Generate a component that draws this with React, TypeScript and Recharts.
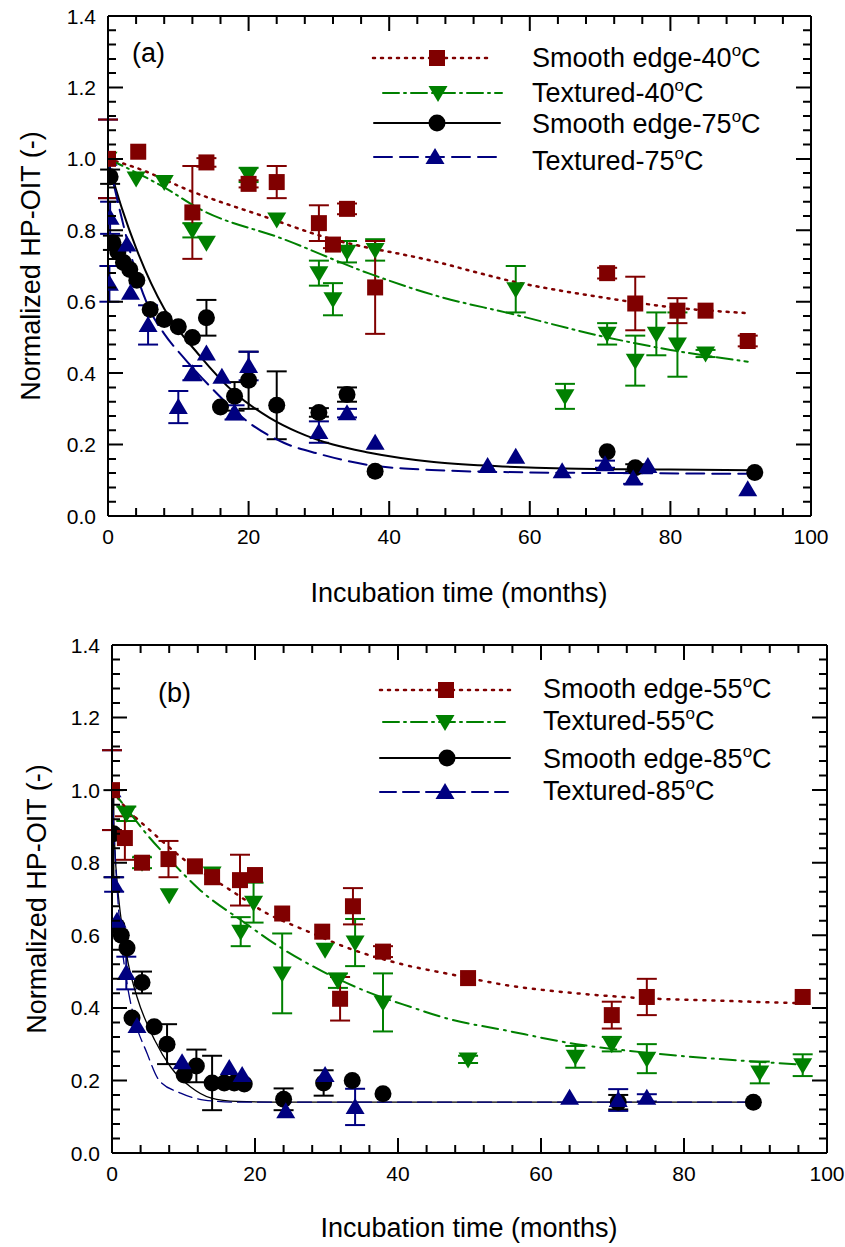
import React from 'react';
import { ComposedChart, Scatter, Line, XAxis, YAxis, ErrorBar } from 'recharts';

const FONT = '"Liberation Sans", Arial, Helvetica, sans-serif';
const RED = '#800000';
const GREEN = '#008000';
const BLACK = '#000000';
const BLUE = '#000080';

// ---------- tick labels ----------
const majorX = [0, 20, 40, 60, 80, 100];
const minorX = [0, 4, 8, 12, 16, 20, 24, 28, 32, 36, 40, 44, 48, 52, 56, 60, 64, 68, 72, 76, 80, 84, 88, 92, 96, 100];
const majorY = [0, 0.2, 0.4, 0.6, 0.8, 1.0, 1.2, 1.4];
const minorY = [0, 0.04, 0.08, 0.12, 0.16, 0.2, 0.24, 0.28, 0.32, 0.36, 0.4, 0.44, 0.48, 0.52, 0.56, 0.6, 0.64, 0.68, 0.72, 0.76, 0.8, 0.84, 0.88, 0.92, 0.96, 1.0, 1.04, 1.08, 1.12, 1.16, 1.2, 1.24, 1.28, 1.32, 1.36, 1.4];
const X_DOMAIN = [0, 100];
const Y_DOMAIN = [0, 1.4];

// ---------- panel (a) measurements ----------
const smooth40A = [
  { x: 0, y: 1.0, err: 0.11 }, { x: 4.3, y: 1.02 }, { x: 12, y: 0.85, err: 0.13 }, { x: 14, y: 0.99, err: 0.012 },
  { x: 20, y: 0.93, err: 0.01 }, { x: 24, y: 0.935, err: 0.045 }, { x: 30, y: 0.82, err: 0.05 }, { x: 32, y: 0.76, err: 0.01 },
  { x: 34, y: 0.86, err: 0.015 }, { x: 38, y: 0.64, err: 0.13 }, { x: 71, y: 0.68, err: 0.015 }, { x: 75, y: 0.595, err: 0.075 },
  { x: 81, y: 0.575, err: 0.035 }, { x: 85, y: 0.575 }, { x: 91, y: 0.49, err: 0.015 },
];
const textured40A = [
  { x: 0, y: 1.0 }, { x: 4, y: 0.945 }, { x: 8, y: 0.935 }, { x: 12, y: 0.8, err: 0.02 }, { x: 14, y: 0.765 },
  { x: 20, y: 0.955, err: 0.02 }, { x: 24, y: 0.83 }, { x: 30, y: 0.68, err: 0.035 }, { x: 32, y: 0.607, err: 0.045 },
  { x: 34, y: 0.74, err: 0.03 }, { x: 38, y: 0.745, err: 0.03 }, { x: 58, y: 0.635, err: 0.065 }, { x: 65, y: 0.335, err: 0.035 },
  { x: 71, y: 0.51, err: 0.03 }, { x: 75, y: 0.435, err: 0.07 }, { x: 78, y: 0.51, err: 0.06 }, { x: 81, y: 0.48, err: 0.09 },
  { x: 85, y: 0.455, err: 0.01 },
];
const smooth75A = [
  { x: 0.3, y: 0.95, err: 0.02 }, { x: 0.7, y: 0.765, err: 0.02 }, { x: 1.4, y: 0.74 }, { x: 2.2, y: 0.71 }, { x: 3.1, y: 0.69 },
  { x: 4.1, y: 0.66 }, { x: 6, y: 0.578 }, { x: 8, y: 0.55 }, { x: 10, y: 0.53 }, { x: 12, y: 0.5 }, { x: 14, y: 0.555, err: 0.05 },
  { x: 16, y: 0.305 }, { x: 18, y: 0.335, err: 0.04 }, { x: 20, y: 0.38, err: 0.08 }, { x: 24, y: 0.31, err: 0.095 },
  { x: 30, y: 0.29, err: 0.012 }, { x: 34, y: 0.34, err: 0.02 }, { x: 38, y: 0.125 }, { x: 71, y: 0.18 },
  { x: 75, y: 0.135, err: 0.01 }, { x: 92, y: 0.122 },
];
const textured75A = [
  { x: 0, y: 1.0, err: 0.11 }, { x: 0.3, y: 0.835, err: 0.045 }, { x: 0.2, y: 0.65, err: 0.05 }, { x: 2.7, y: 0.76 },
  { x: 3.2, y: 0.625 }, { x: 5.7, y: 0.535, err: 0.055 }, { x: 10, y: 0.305, err: 0.045 }, { x: 12, y: 0.4, err: 0.02 },
  { x: 14, y: 0.455 }, { x: 16.2, y: 0.39 }, { x: 18, y: 0.29, err: 0.02 }, { x: 20, y: 0.42, err: 0.04 },
  { x: 30, y: 0.235, err: 0.03 }, { x: 34, y: 0.288, err: 0.012 }, { x: 38, y: 0.205 }, { x: 54, y: 0.14 },
  { x: 58, y: 0.166 }, { x: 64.6, y: 0.125 }, { x: 70.7, y: 0.145, err: 0.01 }, { x: 74.7, y: 0.105, err: 0.015 },
  { x: 76.8, y: 0.14 }, { x: 91, y: 0.075 },
];
// fitted curves (a)
const fitSmooth40A = [
  { x: 0, y: 1.0 }, { x: 4, y: 0.975 }, { x: 12, y: 0.908 }, { x: 22, y: 0.84 }, { x: 31, y: 0.78 }, { x: 46, y: 0.715 },
  { x: 58, y: 0.655 }, { x: 71, y: 0.61 }, { x: 80, y: 0.585 }, { x: 91, y: 0.568 },
];
const fitTextured40A = [
  { x: 0, y: 1.0 }, { x: 8, y: 0.92 }, { x: 13, y: 0.86 }, { x: 25, y: 0.775 }, { x: 37, y: 0.68 }, { x: 47, y: 0.615 },
  { x: 57, y: 0.568 }, { x: 71, y: 0.5 }, { x: 80, y: 0.465 }, { x: 91, y: 0.432 },
];
const fitSmooth75A = [
  { x: 0, y: 0.99 }, { x: 2, y: 0.86 }, { x: 4, y: 0.75 }, { x: 8, y: 0.58 }, { x: 13, y: 0.45 }, { x: 18, y: 0.345 },
  { x: 23, y: 0.275 }, { x: 27, y: 0.235 }, { x: 32, y: 0.2 }, { x: 37, y: 0.178 }, { x: 46, y: 0.152 }, { x: 55, y: 0.14 },
  { x: 65, y: 0.133 }, { x: 80, y: 0.13 }, { x: 92, y: 0.128 },
];
const fitTextured75A = [
  { x: 0, y: 1.0 }, { x: 2, y: 0.83 }, { x: 4, y: 0.68 }, { x: 6, y: 0.575 }, { x: 8, y: 0.51 }, { x: 10.7, y: 0.445 },
  { x: 15, y: 0.353 }, { x: 19.8, y: 0.265 }, { x: 25, y: 0.205 }, { x: 30, y: 0.174 }, { x: 37, y: 0.143 }, { x: 46, y: 0.129 },
  { x: 60, y: 0.122 }, { x: 75, y: 0.12 }, { x: 91, y: 0.118 },
];

// ---------- panel (b) measurements ----------
const smooth55B = [
  { x: 0, y: 1.0, err: 0.11 }, { x: 1.8, y: 0.868, err: 0.06 }, { x: 4.2, y: 0.8 }, { x: 7.9, y: 0.81, err: 0.05 },
  { x: 11.6, y: 0.79 }, { x: 14, y: 0.76 }, { x: 17.9, y: 0.752, err: 0.07 }, { x: 20, y: 0.766 }, { x: 23.8, y: 0.66 },
  { x: 29.4, y: 0.61 }, { x: 31.9, y: 0.425, err: 0.06 }, { x: 33.7, y: 0.68, err: 0.05 }, { x: 37.9, y: 0.555, err: 0.015 },
  { x: 49.8, y: 0.482 }, { x: 69.9, y: 0.38, err: 0.037 }, { x: 74.8, y: 0.43, err: 0.05 }, { x: 96.6, y: 0.43 },
];
const textured55B = [
  { x: 2, y: 0.935, err: 0.02 }, { x: 4.2, y: 0.8, err: 0.015 }, { x: 8, y: 0.71 }, { x: 14, y: 0.77 },
  { x: 18, y: 0.61, err: 0.04 }, { x: 19.8, y: 0.69, err: 0.055 }, { x: 23.8, y: 0.495, err: 0.11 }, { x: 29.8, y: 0.56 },
  { x: 31.6, y: 0.475, err: 0.02 }, { x: 34, y: 0.58, err: 0.065 }, { x: 37.9, y: 0.415, err: 0.08 },
  { x: 49.8, y: 0.258, err: 0.01 }, { x: 64.8, y: 0.265, err: 0.03 }, { x: 69.9, y: 0.3, err: 0.02 },
  { x: 74.8, y: 0.26, err: 0.04 }, { x: 90.6, y: 0.222, err: 0.03 }, { x: 96.6, y: 0.242, err: 0.03 },
];
const smooth85B = [
  { x: 0.2, y: 0.88, err: 0.12 }, { x: 0.7, y: 0.625 }, { x: 1.3, y: 0.6 }, { x: 2.1, y: 0.565 }, { x: 2.8, y: 0.372 },
  { x: 4.2, y: 0.47, err: 0.03 }, { x: 5.9, y: 0.348 }, { x: 7.7, y: 0.3, err: 0.055 }, { x: 10.1, y: 0.215 },
  { x: 11.8, y: 0.24, err: 0.045 }, { x: 14, y: 0.193, err: 0.075 }, { x: 15.7, y: 0.193 }, { x: 17.1, y: 0.193 },
  { x: 18.5, y: 0.19 }, { x: 24, y: 0.148, err: 0.03 }, { x: 29.6, y: 0.193, err: 0.035 }, { x: 33.6, y: 0.2 },
  { x: 37.9, y: 0.163 }, { x: 70.8, y: 0.14, err: 0.02 }, { x: 89.7, y: 0.14 },
];
const textured85B = [
  { x: 0, y: 1.0, err: 0.11 }, { x: 0.3, y: 0.74, err: 0.02 }, { x: 0.7, y: 0.64 }, { x: 2, y: 0.496, err: 0.045 },
  { x: 3.5, y: 0.35 }, { x: 9.8, y: 0.25 }, { x: 16.4, y: 0.234 }, { x: 18.2, y: 0.215 }, { x: 24.3, y: 0.115 },
  { x: 29.8, y: 0.215 }, { x: 34, y: 0.127, err: 0.05 }, { x: 64, y: 0.152 }, { x: 70.8, y: 0.146, err: 0.03 },
  { x: 74.8, y: 0.152, err: 0.01 },
];
const fitSmooth55B = [
  { x: 0, y: 1.0 }, { x: 2, y: 0.95 }, { x: 5, y: 0.895 }, { x: 10, y: 0.81 }, { x: 16.6, y: 0.724 }, { x: 21.7, y: 0.66 },
  { x: 27, y: 0.614 }, { x: 33, y: 0.565 }, { x: 40, y: 0.523 }, { x: 48, y: 0.49 }, { x: 55, y: 0.463 }, { x: 65, y: 0.44 },
  { x: 74, y: 0.427 }, { x: 83, y: 0.421 }, { x: 96, y: 0.413 },
];
const fitTextured55B = [
  { x: 0, y: 1.0 }, { x: 2, y: 0.95 }, { x: 5, y: 0.875 }, { x: 8, y: 0.81 }, { x: 12.3, y: 0.725 }, { x: 18.6, y: 0.634 },
  { x: 23.5, y: 0.567 }, { x: 29.5, y: 0.5 }, { x: 35.6, y: 0.445 }, { x: 41.7, y: 0.403 }, { x: 47, y: 0.37 },
  { x: 55, y: 0.338 }, { x: 65, y: 0.3 }, { x: 74, y: 0.278 }, { x: 83, y: 0.262 }, { x: 93, y: 0.248 }, { x: 97, y: 0.243 },
];
const fitSmooth85B = [
  { x: 0, y: 1.0 }, { x: 0.5, y: 0.8 }, { x: 1.3, y: 0.64 }, { x: 2.3, y: 0.52 }, { x: 3.5, y: 0.43 }, { x: 6, y: 0.31 },
  { x: 8.2, y: 0.237 }, { x: 11, y: 0.182 }, { x: 13.8, y: 0.152 }, { x: 17.5, y: 0.142 }, { x: 25, y: 0.14 }, { x: 90, y: 0.14 },
];
const fitTextured85B = [
  { x: 0, y: 1.0 }, { x: 0.5, y: 0.8 }, { x: 1, y: 0.65 }, { x: 2, y: 0.48 }, { x: 3, y: 0.38 }, { x: 4.9, y: 0.275 },
  { x: 6.6, y: 0.2 }, { x: 9.6, y: 0.165 }, { x: 12.9, y: 0.146 }, { x: 18, y: 0.14 }, { x: 90, y: 0.14 },
];

// ---------- legend labels ----------
const legendA = [
  { name: 'Smooth edge-40', color: RED, marker: 'square', dash: '2 6', width: 2.5 },
  { name: 'Textured-40', color: GREEN, marker: 'down', dash: '16 5 2 5', width: 2 },
  { name: 'Smooth edge-75', color: BLACK, marker: 'circle', dash: undefined, width: 2 },
  { name: 'Textured-75', color: BLUE, marker: 'up', dash: '18 8', width: 2 },
];
const legendB = [
  { name: 'Smooth edge-55', color: RED, marker: 'square', dash: '2 6', width: 2.5 },
  { name: 'Textured-55', color: GREEN, marker: 'down', dash: '16 5 2 5', width: 2 },
  { name: 'Smooth edge-85', color: BLACK, marker: 'circle', dash: undefined, width: 2 },
  { name: 'Textured-85', color: BLUE, marker: 'up', dash: '16 7', width: 2 },
];

// ---------- layout of the two plot frames (page pixels) ----------
const frameA = { chartTop: 0, chartH: 620, left: 108, top: 16, right: 811, bottom: 516 };
const frameB = { chartTop: 620, chartH: 627, left: 112, top: 645, right: 827, bottom: 1153 };

// ---------- markers ----------
function markerEl(kind: string, cx: number, cy: number, color: string) {
  if (kind === 'square') return <rect x={cx - 8} y={cy - 8} width={16} height={16} fill={color} />;
  if (kind === 'circle') return <circle cx={cx} cy={cy} r={8.5} fill={color} />;
  if (kind === 'down') return <polygon points={`${cx - 9.5},${cy - 7} ${cx + 9.5},${cy - 7} ${cx},${cy + 9}`} fill={color} />;
  return <polygon points={`${cx - 9.5},${cy + 7} ${cx + 9.5},${cy + 7} ${cx},${cy - 9}`} fill={color} />;
}
const shapeOf = (kind: string, color: string) => (p: any) => {
  if (p == null || p.cx == null || p.cy == null) return <g />;
  return markerEl(kind, p.cx, p.cy, color);
};

// tick labels (drawn by the axes)
const LABEL_M = 20;
const labelBottom = (p: any) => (
  <text x={p.x} y={p.y - LABEL_M + 28} textAnchor="middle" fontSize={21} fontFamily={FONT} fill="#000">
    {String(p.payload.value)}
  </text>
);
const labelLeft = (p: any) => (
  <text x={p.x + LABEL_M - 12} y={p.y + 7.5} textAnchor="end" fontSize={21} fontFamily={FONT} fill="#000">
    {Number(p.payload.value).toFixed(1)}
  </text>
);

// inward tick marks on all four sides of a frame, placed from the tick lists and the axis domains
const MAJOR = 15;
const MINOR = 8;
function FrameTicks(props: { f: any }) {
  const f = props.f;
  const sx = (v: number) => f.left + ((v - X_DOMAIN[0]) / (X_DOMAIN[1] - X_DOMAIN[0])) * (f.right - f.left);
  const sy = (v: number) => f.bottom - ((v - Y_DOMAIN[0]) / (Y_DOMAIN[1] - Y_DOMAIN[0])) * (f.bottom - f.top);
  let d = '';
  const addX = (vals: number[], len: number) => vals.forEach((v) => {
    const x = sx(v).toFixed(1);
    d += `M${x},${f.bottom}V${f.bottom - len}M${x},${f.top}V${f.top + len}`;
  });
  const addY = (vals: number[], len: number) => vals.forEach((v) => {
    const y = sy(v).toFixed(1);
    d += `M${f.left},${y}H${f.left + len}M${f.right},${y}H${f.right - len}`;
  });
  addX(minorX, MINOR); addX(majorX, MAJOR); addY(minorY, MINOR); addY(majorY, MAJOR);
  return <path d={d} stroke="#000" strokeWidth={2} fill="none" />;
}

type ScatterDef = { data: any[]; color: string; kind: string };
type FitDef = { data: any[]; color: string; dash?: string; width: number };

const axisStroke = { stroke: '#000', strokeWidth: 2 };

function Panel(props: { f: any; scatters: ScatterDef[]; fits: FitDef[] }) {
  const { f, scatters, fits } = props;
  // each axis is 1px thick, so subtract 1px from each margin
  const m = {
    top: f.top - f.chartTop - 1,
    bottom: f.chartTop + f.chartH - f.bottom - 1,
    left: f.left - 1,
    right: 845 - f.right - 1,
  };
  const common = { type: 'number' as const, allowDataOverflow: true, interval: 0 as const, tickSize: 0, tickLine: false };
  return (
    <ComposedChart width={845} height={f.chartH} margin={m}>
      <XAxis xAxisId="xb" orientation="bottom" dataKey="x" domain={X_DOMAIN} ticks={majorX} height={1}
        tickMargin={LABEL_M} axisLine={axisStroke} tick={labelBottom} {...common} />
      <XAxis xAxisId="xt" orientation="top" dataKey="x" domain={X_DOMAIN} ticks={majorX} height={1}
        tickMargin={0} axisLine={axisStroke} tick={false} {...common} />
      <YAxis yAxisId="yl" orientation="left" dataKey="y" domain={Y_DOMAIN} ticks={majorY} width={1}
        tickMargin={LABEL_M} axisLine={axisStroke} tick={labelLeft} {...common} />
      <YAxis yAxisId="yr" orientation="right" dataKey="y" domain={Y_DOMAIN} ticks={majorY} width={1}
        tickMargin={0} axisLine={axisStroke} tick={false} {...common} />
      {scatters.map((s, i) => (
        <Scatter key={'s' + i} xAxisId="xb" yAxisId="yl" data={s.data} dataKey="y" fill={s.color}
          shape={shapeOf(s.kind, s.color)} isAnimationActive={false}>
          <ErrorBar dataKey="err" direction="y" width={10} strokeWidth={2} stroke={s.color} isAnimationActive={false} />
        </Scatter>
      ))}
      {fits.map((f2, i) => (
        <Line key={'f' + i} xAxisId="xb" yAxisId="yl" data={f2.data} dataKey="y" type="monotone"
          stroke={f2.color} strokeWidth={f2.width} strokeDasharray={f2.dash} strokeLinecap="round"
          dot={false} activeDot={false} isAnimationActive={false} />
      ))}
    </ComposedChart>
  );
}

function LegendRows(props: { rows: any[]; lineX1: number[]; lineX2: number[]; markX: number[]; lineY: number[]; textX: number; textY: number[] }) {
  const { rows, lineX1, lineX2, markX, lineY, textX, textY } = props;
  return (
    <g>
      {rows.map((r, i) => (
        <g key={i}>
          <line x1={lineX1[i]} x2={lineX2[i]} y1={lineY[i]} y2={lineY[i]} stroke={r.color} strokeWidth={r.width}
            strokeDasharray={r.dash} strokeLinecap="round" />
          {markerEl(r.marker, markX[i], lineY[i], r.color)}
          <text x={textX} y={textY[i]} fontSize={27} fontFamily={FONT} fill="#000">
            {r.name}
            <tspan dy={-11} fontSize={17}>o</tspan>
            <tspan dy={11}>C</tspan>
          </text>
        </g>
      ))}
    </g>
  );
}

export default function App() {
  return (
    <div style={{ position: 'absolute', left: 0, top: 0, width: 845, height: 1247, background: '#fff', overflow: 'hidden' }}>
      <div style={{ position: 'absolute', left: 0, top: frameA.chartTop }}>
        <Panel f={frameA}
          scatters={[
            { data: smooth75A, color: BLACK, kind: 'circle' },
            { data: textured75A, color: BLUE, kind: 'up' },
            { data: textured40A, color: GREEN, kind: 'down' },
            { data: smooth40A, color: RED, kind: 'square' },
          ]}
          fits={[
            { data: fitSmooth40A, color: RED, dash: '2 6', width: 2.5 },
            { data: fitTextured40A, color: GREEN, dash: '16 5 2 5', width: 2 },
            { data: fitSmooth75A, color: BLACK, width: 2 },
            { data: fitTextured75A, color: BLUE, dash: '18 8', width: 2 },
          ]} />
      </div>
      <div style={{ position: 'absolute', left: 0, top: frameB.chartTop }}>
        <Panel f={frameB}
          scatters={[
            { data: smooth85B, color: BLACK, kind: 'circle' },
            { data: textured85B, color: BLUE, kind: 'up' },
            { data: textured55B, color: GREEN, kind: 'down' },
            { data: smooth55B, color: RED, kind: 'square' },
          ]}
          fits={[
            { data: fitSmooth55B, color: RED, dash: '2 7', width: 2.5 },
            { data: fitTextured55B, color: GREEN, dash: '16 6 2 6', width: 2 },
            { data: fitSmooth85B, color: BLACK, width: 1.3 },
            { data: fitTextured85B, color: BLUE, dash: '14 6', width: 1.3 },
          ]} />
      </div>
      <svg width={845} height={1247} style={{ position: 'absolute', left: 0, top: 0, pointerEvents: 'none' }}>
        <FrameTicks f={frameA} />
        <FrameTicks f={frameB} />
        <text x={132} y={62} fontSize={27} fontFamily={FONT}>(a)</text>
        <text x={158} y={702} fontSize={27} fontFamily={FONT}>(b)</text>
        <LegendRows rows={legendA} lineX1={[373, 383, 374, 374]} lineX2={[493, 502, 500, 500]} markX={[437, 438, 437, 435]}
          lineY={[58, 93, 123, 157]} textX={532} textY={[67, 102, 133, 170]} />
        <LegendRows rows={legendB} lineX1={[380, 383, 380, 380]} lineX2={[510, 505, 510, 508]} markX={[446, 445, 447, 445]}
          lineY={[690, 722, 758, 792]} textX={543} textY={[698, 730, 768, 800]} />
        <text x={459} y={602} textAnchor="middle" fontSize={27} fontFamily={FONT}>Incubation time (months)</text>
        <text x={469} y={1237} textAnchor="middle" fontSize={27} fontFamily={FONT}>Incubation time (months)</text>
        <text transform="translate(40,266) rotate(-90)" textAnchor="middle" fontSize={27} fontFamily={FONT}>Normalized HP-OIT (-)</text>
        <text transform="translate(46,899) rotate(-90)" textAnchor="middle" fontSize={27} fontFamily={FONT}>Normalized HP-OIT (-)</text>
      </svg>
    </div>
  );
}
